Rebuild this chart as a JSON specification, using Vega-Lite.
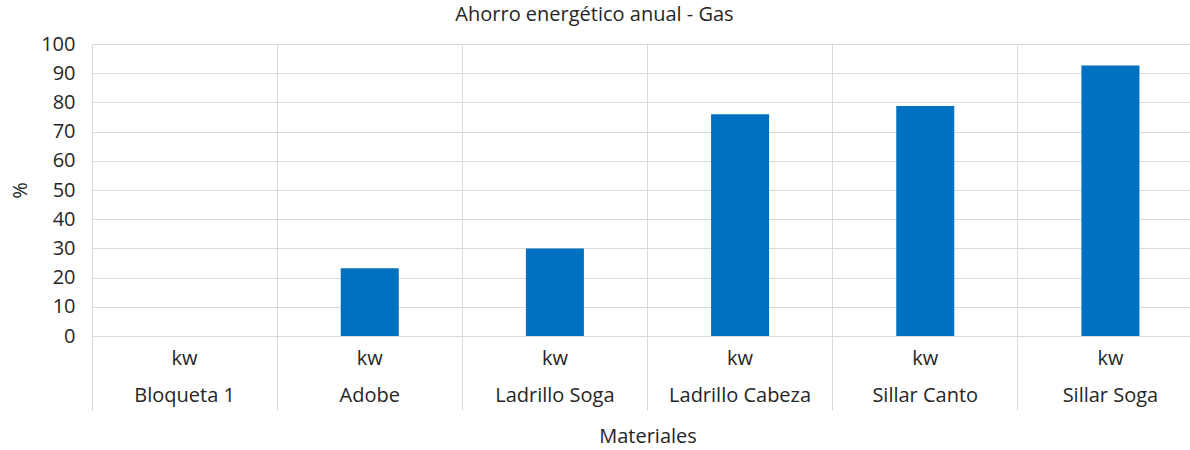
{
  "$schema": "https://vega.github.io/schema/vega-lite/v6.json",
  "autosize": "none",
  "padding": {"left": 92, "top": 44, "right": 0, "bottom": 114},
  "width": 1111,
  "height": 292,
  "background": "white",
  "config": {
    "font": "Open Sans",
    "view": {"stroke": null}
  },
  "title": {
    "text": "Ahorro energético anual - Gas",
    "fontSize": 20,
    "fontWeight": "normal",
    "color": "#262626",
    "anchor": "middle",
    "dx": -53,
    "offset": 9
  },
  "data": {
    "values": [
      {"material": "Bloqueta 1", "ahorro": 0},
      {"material": "Adobe", "ahorro": 23.2},
      {"material": "Ladrillo Soga", "ahorro": 30.0},
      {"material": "Ladrillo Cabeza", "ahorro": 75.9},
      {"material": "Sillar Canto", "ahorro": 78.8},
      {"material": "Sillar Soga", "ahorro": 92.6}
    ]
  },
  "mark": {"type": "bar", "color": "#0070C0", "width": 58},
  "encoding": {
    "x": {
      "field": "material",
      "type": "nominal",
      "sort": null,
      "scale": {"paddingInner": 0, "paddingOuter": 0},
      "axis": {
        "title": "Materiales",
        "titleFontSize": 20,
        "titleFontWeight": "normal",
        "titleColor": "#262626",
        "titlePadding": 16,
        "labelAngle": 0,
        "labelFontSize": 20,
        "labelColor": "#262626",
        "labelBaseline": "top",
        "labelPadding": -62,
        "labelLineHeight": 37,
        "labelExpr": "datum.label ? ['kw', datum.label] : ''",
        "bandPosition": 0,
        "tickExtra": true,
        "ticks": true,
        "tickSize": 74,
        "tickColor": "#d9d9d9",
        "grid": true,
        "gridColor": "#d9d9d9",
        "domain": false
      }
    },
    "y": {
      "field": "ahorro",
      "type": "quantitative",
      "scale": {"domain": [0, 100]},
      "axis": {
        "title": "%",
        "titleFontSize": 20,
        "titleFontWeight": "normal",
        "titleColor": "#262626",
        "titlePadding": 10,
        "values": [0, 10, 20, 30, 40, 50, 60, 70, 80, 90, 100],
        "labelOverlap": false,
        "labelFontSize": 20,
        "labelColor": "#262626",
        "labelPadding": 17,
        "ticks": false,
        "domain": false,
        "grid": true,
        "gridColor": "#d9d9d9"
      }
    }
  }
}
